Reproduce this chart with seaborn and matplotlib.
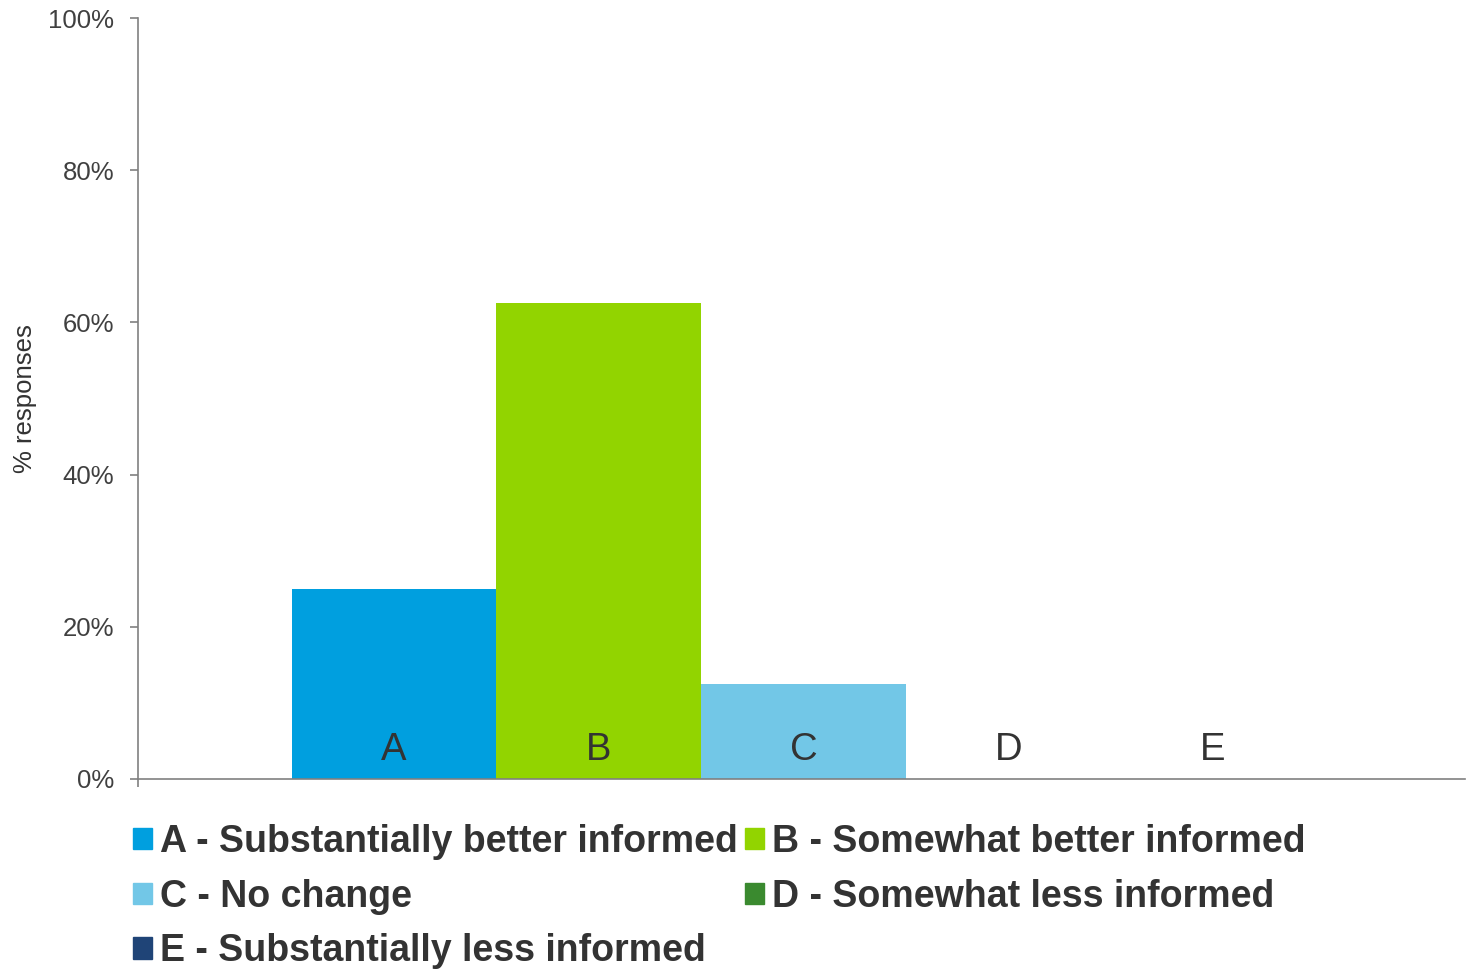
import matplotlib
matplotlib.use("Agg")
import matplotlib.pyplot as plt
import matplotlib.patches as mpatches
from matplotlib.ticker import PercentFormatter
import seaborn as sns

# data
categories = ["A", "B", "C", "D", "E"]
responses = [25.0, 62.5, 12.5, 0.0, 0.0]
legend_labels = [
    "A - Substantially better informed",
    "B - Somewhat better informed",
    "C - No change",
    "D - Somewhat less informed",
    "E - Substantially less informed",
]
colors = ["#009fdf", "#92d400", "#72c7e7", "#3a8a2f", "#1f4477"]

sns.set_style("ticks")
plt.rcParams["font.family"] = ["Liberation Sans", "DejaVu Sans"]

fig = plt.figure(figsize=(14.66, 9.75), dpi=100)
ax = fig.add_axes([138 / 1466, 196 / 975, 1327 / 1466, 761 / 975])

sns.barplot(x=categories, y=responses, hue=categories, palette=colors,
            width=1.0, legend=False, saturation=1, linewidth=0, ax=ax)

ax.set_xlim(-1.25, 5.23)
ax.set_ylim(0, 100)
ax.set_yticks([0, 20, 40, 60, 80, 100])
ax.yaxis.set_major_formatter(PercentFormatter(decimals=0))

axis_col = "#808080"
for side in ["top", "right"]:
    ax.spines[side].set_visible(False)
for side in ["left", "bottom"]:
    ax.spines[side].set_color(axis_col)
    ax.spines[side].set_linewidth(1.2)

ax.tick_params(axis="y", length=6, width=1.2, color=axis_col, pad=11,
               labelsize=18.5, labelcolor="#404040")
# single tick below the origin, category letters drawn inside the plot
ax.set_xticks([-1.25])
ax.set_xticklabels([""])
ax.tick_params(axis="x", length=6, width=1.2, color=axis_col)
for i, cat in enumerate(categories):
    ax.text(i, 0.025, cat, transform=ax.get_xaxis_transform(),
            ha="center", va="baseline", fontsize=27.5, color="#333333")

ax.set_xlabel("")
ax.set_ylabel("% responses", fontsize=18.5, color="#333333")
ax.yaxis.set_label_coords(-0.076, 0.5)

handles = [mpatches.Patch(color=c, label=l) for c, l in zip(colors, legend_labels)]
order = [0, 2, 4, 1, 3]
fig.legend([handles[i] for i in order], [legend_labels[i] for i in order],
           ncol=2, loc="upper left", bbox_to_anchor=(133 / 1466, 0.155),
           frameon=False, borderpad=0, borderaxespad=0,
           handlelength=0.5, handleheight=0.5, handletextpad=0.22,
           columnspacing=0.2, labelspacing=0.5,
           prop={"family": "Liberation Sans", "weight": "bold", "size": 27.0},
           labelcolor="#333333")

fig.savefig("out.png", dpi=100)
